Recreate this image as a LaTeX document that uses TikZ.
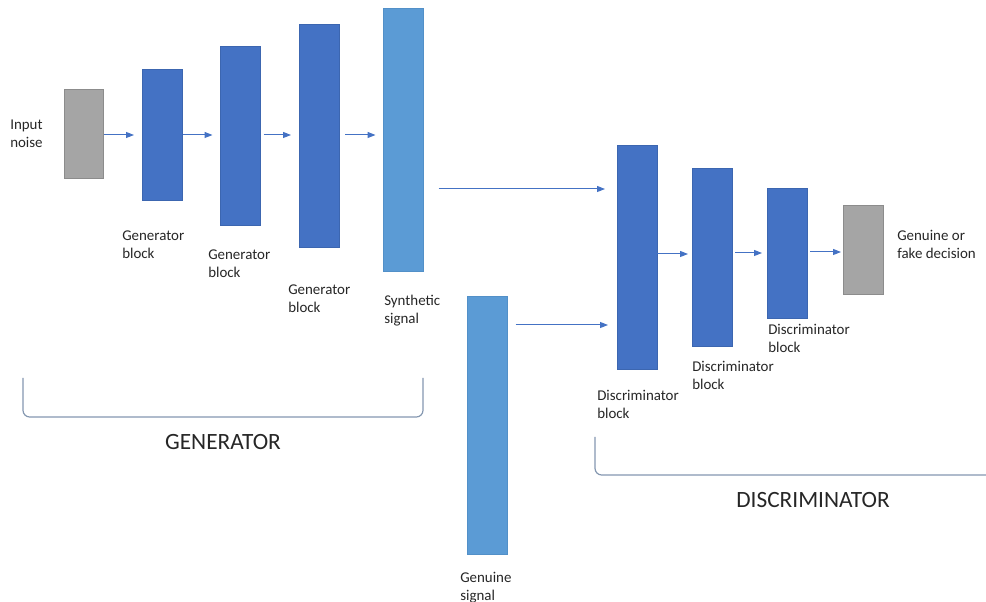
\documentclass[tikz,border=0pt]{standalone}
\usepackage{fontspec}
\setmainfont{Carlito}
\usetikzlibrary{arrows.meta}
\definecolor{dblue}{HTML}{4472C4}
\definecolor{dblueb}{HTML}{3C66B0}
\definecolor{lblue}{HTML}{5B9BD5}
\definecolor{lblueb}{HTML}{5290C8}
\definecolor{gfill}{HTML}{A5A5A5}
\definecolor{gline}{HTML}{8C8C8C}
\definecolor{brk}{HTML}{8497B0}
\definecolor{txt}{HTML}{262626}
\begin{document}
\begin{tikzpicture}[x=0.75pt,y=-0.75pt,
  blk/.style={rectangle,inner sep=0,outer sep=0,line width=0.75pt},
  gen/.style={blk,fill=dblue,draw=dblueb},
  sig/.style={blk,fill=lblue,draw=lblueb},
  gray/.style={blk,fill=gfill,draw=gline},
  lbl/.style={align=left,anchor=base west,inner sep=0,text=txt,font=\fontsize{11.2}{13.5}\selectfont},
  title/.style={anchor=base,inner sep=0,text=txt,font=\fontsize{17.5}{21}\selectfont},
  arr/.style={draw=dblue,line width=0.75pt,-{Triangle[length=6pt,width=4.5pt]}},
  bracket/.style={draw=brk,line width=0.9pt,rounded corners=5pt}]
\useasboundingbox (0,0) rectangle (986,602);
% boxes
\node[gray,minimum width=29.25pt,minimum height=66.75pt] (noise) at (83.5,134.5) {};
\node[gen,minimum width=30pt,minimum height=98.25pt] (g1) at (162,135.5) {};
\node[gen,minimum width=30pt,minimum height=134.25pt] (g2) at (240.5,136.5) {};
\node[gen,minimum width=30pt,minimum height=167.25pt] (g3) at (319,136.5) {};
\node[sig,minimum width=30pt,minimum height=197.25pt] (synth) at (403.5,140.5) {};
\node[sig,minimum width=30pt,minimum height=192.75pt] (genuine) at (487.5,425.5) {};
\node[gen,minimum width=30pt,minimum height=168pt] (d1) at (637,258) {};
\node[gen,minimum width=30pt,minimum height=133.5pt] (d2) at (712,258) {};
\node[gen,minimum width=30pt,minimum height=97.5pt] (d3) at (787,254) {};
\node[gray,minimum width=30pt,minimum height=66.75pt] (dec) at (863,250.5) {};
% labels (base = baseline of last line)
\node[lbl] (lnoise) at (10,148) {Input\\noise};
\node[lbl] (lg1) at (122,259) {Generator\\block};
\node[lbl] (lg2) at (208,278) {Generator\\block};
\node[lbl] (lg3) at (288,313) {Generator\\block};
\node[lbl] (lsynth) at (384,324) {Synthetic\\signal};
\node[lbl] (lgen) at (460,600) {Genuine\\signal};
\node[lbl] (ld1) at (597,419) {Discriminator\\block};
\node[lbl] (ld2) at (692,390) {Discriminator\\block};
\node[lbl] (ld3) at (768,353) {Discriminator\\block};
\node[lbl] (ldec) at (897,259) {Genuine or\\fake decision};
\node[title] (tgen) at (223,450) {GENERATOR};
\node[title] (tdis) at (813,508) {DISCRIMINATOR};
% arrows
\coordinate (y135) at (0,135);
\draw[arr,shorten <=0.75pt,shorten >=6pt] (noise.east |- y135) -- (g1.west |- y135);
\draw[arr,shorten <=0.75pt,shorten >=6pt] (g1.east |- y135) -- (g2.west |- y135);
\draw[arr,shorten <=2.25pt,shorten >=6pt] (g2.east |- y135) -- (g3.west |- y135);
\draw[arr,shorten <=4.5pt,shorten >=6pt] (g3.east |- y135) -- (synth.west |- y135);
\coordinate (y189) at (0,189);
\draw[arr,shorten <=11.25pt,shorten >=9pt] (synth.east |- y189) -- (d1.west |- y189);
\coordinate (y325) at (0,325);
\draw[arr,shorten <=6pt,shorten >=6.75pt] (genuine.east |- y325) -- (d1.west |- y325);
\coordinate (y254) at (0,254);
\draw[arr,shorten >=3pt] (d1.east |- y254) -- (d2.west |- y254);
\coordinate (y253) at (0,253);
\draw[arr,shorten <=2.25pt,shorten >=3.75pt] (d2.east |- y253) -- (d3.west |- y253);
\coordinate (y252) at (0,252);
\draw[arr,shorten <=2.25pt,shorten >=1.5pt] (d3.east |- y252) -- (dec.west |- y252);
% brackets
\draw[bracket] (23,378) -- (23,417) -- (423,417) -- (423,378);
\draw[bracket] (595,437) -- (595,475) -- (990,475);
\end{tikzpicture}
\end{document}
